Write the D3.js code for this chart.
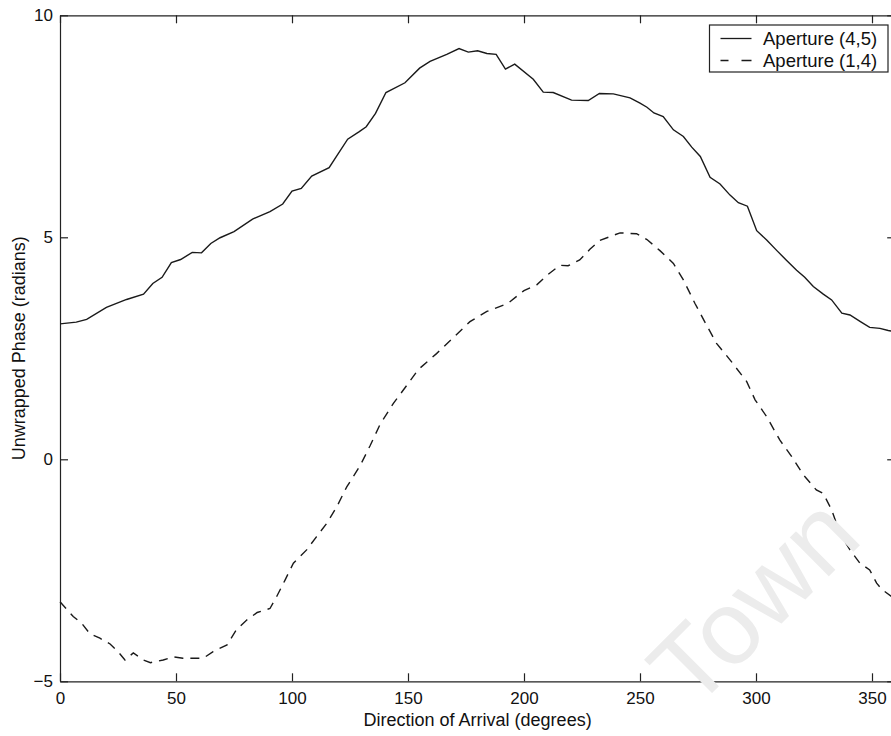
<!DOCTYPE html>
<html>
<head>
<meta charset="utf-8">
<script src="https://cdn.jsdelivr.net/npm/d3@7"></script>
<style>
    html, body { margin: 0; padding: 0; background: #fff; }
    svg { display: block; font-family: "Liberation Sans", Arial, sans-serif; }
    .axis path, .axis line { stroke: #222; stroke-width: 1.2; }
    .axis text { fill: #111; font-size: 17px; font-family: "Liberation Sans", Arial, sans-serif; }
</style>
</head>
<body>
<svg id="chart" width="891" height="736"></svg>
<script>
// Aperture (4,5) - solid
const aperture45Deg = [0, 7, 11.5, 20, 28.7, 36, 40, 44, 48, 52, 57, 61, 65, 69, 75, 83, 90.5, 96, 100, 104,
    108.5, 116, 120, 124, 129, 132, 136, 140.5, 148.7, 155, 159.5, 166.7, 172, 176, 180, 184, 188, 192, 196,
    204, 208.3, 212.6, 220.5, 227.7, 232.5, 238.5, 245.7, 250, 253, 256, 260, 264.4, 268.7, 272.3, 276,
    280.2, 284.5, 288.8, 292.4, 296.3, 300.3, 304.6, 309, 313, 317.5, 321, 324.7, 329, 332.6, 337, 340.5,
    345, 349, 353.4, 357, 360];
const aperture45 = [3.05, 3.09, 3.15, 3.42, 3.6, 3.72, 3.96, 4.1, 4.43, 4.5, 4.66, 4.65, 4.86, 4.99, 5.13,
    5.41, 5.58, 5.75, 6.04, 6.1, 6.38, 6.57, 6.89, 7.21, 7.38, 7.49, 7.79, 8.26, 8.48, 8.81, 8.96, 9.12,
    9.25, 9.17, 9.2, 9.14, 9.12, 8.79, 8.9, 8.56, 8.27, 8.26, 8.09, 8.08, 8.24, 8.23, 8.14, 8.02, 7.93,
    7.8, 7.72, 7.42, 7.27, 7.03, 6.82, 6.35, 6.2, 5.95, 5.78, 5.7, 5.15, 4.94, 4.7, 4.49, 4.26, 4.1, 3.89,
    3.72, 3.59, 3.29, 3.25, 3.1, 2.97, 2.95, 2.9, 2.87];

// Aperture (1,4) - dashed
const aperture14Deg = [0, 5.7, 9.3, 12.9, 17.2, 21.6, 25, 28, 31.6, 36, 39, 44.5, 49, 53, 57.5, 61.8, 66,
    72, 76, 80.5, 85, 90.5, 93.4, 97, 100.6, 106.3, 110.6, 115, 119.3, 123.6, 126.4, 129.3, 133.6, 137.9,
    143.7, 149.4, 154.4, 162.3, 169.5, 176.7, 184, 193, 200, 205.5, 209.8, 215.5, 219, 224, 228.4, 232.7,
    241.4, 248.5, 253, 258.6, 264.4, 268.7, 273.7, 278.7, 283, 288.8, 296, 299.6, 304.6, 310.3, 315.4,
    320.4, 326, 329, 332.6, 336.2, 340.5, 344.8, 349, 352, 354.2, 360];
const aperture14 = [-3.21, -3.54, -3.69, -3.93, -4.03, -4.16, -4.33, -4.52, -4.36, -4.52, -4.58, -4.52,
    -4.45, -4.48, -4.48, -4.48, -4.33, -4.18, -3.84, -3.62, -3.45, -3.36, -3.09, -2.72, -2.34, -2.04,
    -1.74, -1.44, -1.07, -0.62, -0.39, -0.15, 0.3, 0.78, 1.26, 1.66, 2.02, 2.38, 2.74, 3.1, 3.33, 3.51,
    3.8, 3.93, 4.14, 4.37, 4.36, 4.49, 4.73, 4.93, 5.1, 5.08, 4.95, 4.7, 4.41, 4.04, 3.51, 3.02, 2.61,
    2.24, 1.75, 1.34, 0.96, 0.43, 0.06, -0.35, -0.69, -0.77, -1.14, -1.67, -2.04, -2.34, -2.49, -2.79,
    -2.93, -3.15];

const xTicks = [0, 50, 100, 150, 200, 250, 300, 350];
const yTicks = [-5, 0, 5, 10];
const seriesNames = ['Aperture (4,5)', 'Aperture (1,4)'];

const margin = {top: 15.3, left: 60, right: 0, bottom: 0};
const width = 835.2, height = 666;

const svg = d3.select('#chart');
const base = svg.append('g').attr('transform', `translate(${margin.left}, ${margin.top})`);

const x = d3.scaleLinear().domain([0, 360]).range([0, width]);
const y = d3.scaleLinear().domain([-5, 10]).range([height, 0]);

// watermark
svg.append('text')
    .attr('transform', 'translate(693, 712) rotate(-45)')
    .attr('font-size', 104)
    .attr('fill', '#ececec')
    .text('Town');

// axes box
base.append('g').attr('class', 'axis').attr('transform', `translate(0, ${height})`)
    .call(d3.axisBottom(x).tickValues(xTicks).tickSizeInner(-8).tickSizeOuter(0).tickPadding(11));
base.append('g').attr('class', 'axis')
    .call(d3.axisTop(x).tickValues(xTicks).tickSizeInner(-8).tickSizeOuter(0).tickFormat(''));
base.append('g').attr('class', 'axis')
    .call(d3.axisLeft(y).tickValues(yTicks).tickSizeInner(-8).tickSizeOuter(0).tickPadding(7)
        .tickFormat(d => d < 0 ? '\u2212' + Math.abs(d) : d));
base.append('g').attr('class', 'axis').attr('transform', `translate(${width}, 0)`)
    .call(d3.axisRight(y).tickValues(yTicks).tickSizeInner(-8).tickSizeOuter(0).tickFormat(''));

const line = d3.line().x(d => x(d[0])).y(d => y(d[1]));

base.append('path')
    .datum(d3.zip(aperture45Deg, aperture45))
    .attr('d', line)
    .attr('fill', 'none')
    .attr('stroke', '#1a1a1a')
    .attr('stroke-width', 1.4);

base.append('path')
    .datum(d3.zip(aperture14Deg, aperture14))
    .attr('d', line)
    .attr('fill', 'none')
    .attr('stroke', '#1a1a1a')
    .attr('stroke-width', 1.4)
    .attr('stroke-dasharray', '9,7');

// axis titles
svg.append('text')
    .attr('x', margin.left + width / 2).attr('y', 726)
    .attr('text-anchor', 'middle')
    .attr('font-size', 18).attr('fill', '#111')
    .text('Direction of Arrival (degrees)');

svg.append('text')
    .attr('transform', `translate(25, ${margin.top + height / 2}) rotate(-90)`)
    .attr('text-anchor', 'middle')
    .attr('font-size', 18).attr('fill', '#111')
    .text('Unwrapped Phase (radians)');

// legend
const legend = svg.append('g').attr('transform', 'translate(709.5, 25)');
legend.append('rect')
    .attr('width', 178.5).attr('height', 47)
    .attr('fill', '#fff').attr('stroke', '#222').attr('stroke-width', 1.2);

seriesNames.forEach((name, i) => {
    const row = legend.append('g').attr('transform', `translate(0, ${13.5 + i * 22})`);
    row.append('line')
        .attr('x1', 11).attr('x2', 42)
        .attr('stroke', '#1a1a1a').attr('stroke-width', 1.3)
        .attr('stroke-dasharray', i === 1 ? '8,13,10' : null);
    row.append('text')
        .attr('x', 53.5).attr('y', 6.5)
        .attr('font-size', 18.5).attr('fill', '#111')
        .text(name);
});
</script>
</body>
</html>
